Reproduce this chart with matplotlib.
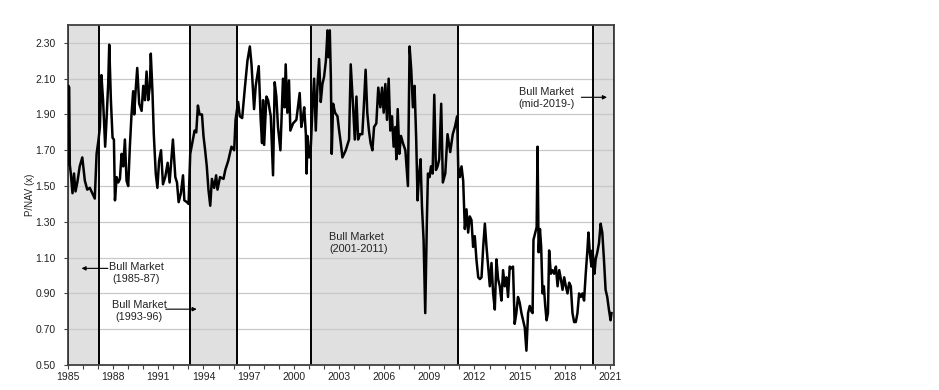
import matplotlib
matplotlib.use("Agg")
from matplotlib import pyplot as plt
from matplotlib.ticker import FormatStrFormatter

plt.rcParams['font.family'] = ['Liberation Sans', 'DejaVu Sans']

# decimal year / P/NAV values
years = [
    1985.00, 1985.03, 1985.08, 1985.12, 1985.20, 1985.30, 1985.40, 1985.50, 1985.62, 1985.78,
    1985.95, 1986.12, 1986.28, 1986.45, 1986.67, 1986.78, 1986.90, 1987.03, 1987.12, 1987.22,
    1987.33, 1987.47, 1987.56, 1987.67, 1987.74, 1987.85, 1987.96, 1988.05, 1988.12, 1988.23,
    1988.34, 1988.45, 1988.56, 1988.67, 1988.78, 1988.89, 1989.00, 1989.11, 1989.22, 1989.33,
    1989.40, 1989.49, 1989.60, 1989.73, 1989.89, 1990.00, 1990.11, 1990.22, 1990.33, 1990.44,
    1990.50, 1990.61, 1990.70, 1990.83, 1990.94, 1991.05, 1991.18, 1991.31, 1991.46, 1991.62,
    1991.75, 1991.97, 1992.13, 1992.24, 1992.35, 1992.50, 1992.64, 1992.73, 1992.90, 1993.01,
    1993.12, 1993.30, 1993.41, 1993.52, 1993.63, 1993.74, 1993.90, 1994.00, 1994.11, 1994.22,
    1994.33, 1994.45, 1994.56, 1994.71, 1994.84, 1994.93, 1995.10, 1995.33, 1995.45, 1995.64,
    1995.86, 1996.04, 1996.13, 1996.30, 1996.41, 1996.57, 1996.75, 1996.92, 1997.08, 1997.19,
    1997.36, 1997.47, 1997.67, 1997.80, 1997.89, 1997.96, 1998.03, 1998.18, 1998.29, 1998.47,
    1998.62, 1998.73, 1998.84, 1998.95, 1999.11, 1999.28, 1999.39, 1999.46, 1999.57, 1999.68,
    1999.77, 1999.95, 2000.17, 2000.39, 2000.50, 2000.58, 2000.69, 2000.80, 2000.85, 2000.91,
    2001.02, 2001.13, 2001.24, 2001.35, 2001.46, 2001.57, 2001.68, 2001.79, 2001.90, 2002.01,
    2002.13, 2002.24, 2002.30, 2002.39, 2002.46, 2002.52, 2002.61, 2002.74, 2002.90, 2003.01,
    2003.12, 2003.23, 2003.45, 2003.67, 2003.78, 2003.94, 2004.05, 2004.16, 2004.27, 2004.40,
    2004.55, 2004.66, 2004.77, 2004.88, 2004.99, 2005.10, 2005.22, 2005.33, 2005.48, 2005.61,
    2005.75, 2005.86, 2005.97, 2006.08, 2006.19, 2006.30, 2006.41, 2006.52, 2006.63, 2006.74,
    2006.81, 2006.90, 2007.01, 2007.12, 2007.25, 2007.41, 2007.58, 2007.69, 2007.80, 2007.91,
    2008.02, 2008.13, 2008.22, 2008.31, 2008.42, 2008.51, 2008.62, 2008.73, 2008.84, 2008.91,
    2009.02, 2009.11, 2009.22, 2009.33, 2009.44, 2009.55, 2009.66, 2009.79, 2009.90, 2010.06,
    2010.21, 2010.39, 2010.56, 2010.70, 2010.85, 2010.92, 2011.03, 2011.14, 2011.25, 2011.36,
    2011.47, 2011.58, 2011.69, 2011.80, 2011.91, 2012.02, 2012.13, 2012.25, 2012.36, 2012.47,
    2012.58, 2012.69, 2012.80, 2012.91, 2013.02, 2013.13, 2013.24, 2013.35, 2013.46, 2013.57,
    2013.68, 2013.79, 2013.90, 2014.01, 2014.12, 2014.23, 2014.34, 2014.45, 2014.56, 2014.67,
    2014.78, 2014.89, 2015.00, 2015.12, 2015.23, 2015.34, 2015.45, 2015.56, 2015.67, 2015.78,
    2015.86, 2015.92, 2016.04, 2016.13, 2016.19, 2016.26, 2016.35, 2016.43, 2016.52, 2016.61,
    2016.70, 2016.79, 2016.88, 2016.96, 2017.07, 2017.18, 2017.29, 2017.41, 2017.52, 2017.63,
    2017.74, 2017.85, 2017.96, 2018.07, 2018.18, 2018.29, 2018.40, 2018.51, 2018.62, 2018.73,
    2018.84, 2018.95, 2019.06, 2019.17, 2019.28, 2019.39, 2019.50, 2019.57, 2019.66, 2019.77,
    2019.83, 2019.90, 2019.97, 2020.05, 2020.16, 2020.27, 2020.38, 2020.49, 2020.60, 2020.71,
    2020.82, 2020.93, 2021.04, 2021.10,
]
pnav = [
    1.62, 2.06, 2.05, 1.62, 1.56, 1.46, 1.57, 1.47, 1.52, 1.61,
    1.66, 1.53, 1.48, 1.49, 1.45, 1.43, 1.68, 1.76, 1.83, 2.12,
    1.98, 1.72, 1.87, 2.07, 2.29, 1.98, 1.77, 1.76, 1.42, 1.55,
    1.52, 1.54, 1.68, 1.61, 1.76, 1.53, 1.50, 1.72, 1.90, 2.03,
    1.90, 2.03, 2.16, 1.96, 1.92, 2.06, 1.98, 2.14, 1.98, 2.06,
    2.24, 2.03, 1.79, 1.57, 1.49, 1.64, 1.70, 1.51, 1.55, 1.63,
    1.52, 1.76, 1.55, 1.52, 1.41, 1.46, 1.56, 1.42, 1.41, 1.40,
    1.68, 1.76, 1.81, 1.80, 1.95, 1.90, 1.90, 1.78, 1.70, 1.61,
    1.48, 1.39, 1.54, 1.49, 1.56, 1.48, 1.55, 1.54, 1.59, 1.64,
    1.72, 1.70, 1.87, 1.97, 1.89, 1.88, 2.05, 2.20, 2.28, 2.18,
    1.93, 2.06, 2.17, 1.87, 1.74, 1.98, 1.73, 2.00, 1.98, 1.89,
    1.56, 2.08, 2.00, 1.83, 1.70, 2.10, 1.94, 2.18, 1.91, 2.09,
    1.81, 1.85, 1.87, 2.02, 1.83, 1.87, 1.94, 1.79, 1.57, 1.78,
    1.66, 1.72, 1.94, 2.10, 1.81, 2.06, 2.21, 1.97, 2.07, 2.11,
    2.20, 2.37, 2.22, 2.37, 2.11, 1.68, 1.96, 1.91, 1.89, 1.81,
    1.74, 1.66, 1.70, 1.76, 2.18, 1.94, 1.76, 2.00, 1.76, 1.79,
    1.79, 1.96, 2.15, 1.91, 1.81, 1.74, 1.70, 1.83, 1.85, 2.05,
    1.94, 2.05, 1.91, 2.07, 1.87, 2.10, 1.81, 1.89, 1.72, 1.83,
    1.65, 1.93, 1.68, 1.78, 1.74, 1.70, 1.50, 2.28, 2.15, 1.94,
    2.06, 1.76, 1.42, 1.55, 1.65, 1.39, 1.20, 0.79, 1.31, 1.57,
    1.55, 1.61, 1.57, 2.01, 1.59, 1.61, 1.65, 1.96, 1.52, 1.57,
    1.79, 1.69, 1.79, 1.83, 1.89, 1.61, 1.55, 1.61, 1.53, 1.26,
    1.37, 1.24, 1.33, 1.31, 1.16, 1.22, 1.09, 0.99, 0.98, 0.99,
    1.16, 1.29, 1.16, 1.05, 0.94, 1.07, 0.90, 0.81, 1.09, 0.98,
    0.94, 0.86, 1.03, 0.94, 0.99, 0.88, 1.05, 1.04, 1.05, 0.73,
    0.79, 0.88, 0.85, 0.79, 0.75, 0.71, 0.58, 0.79, 0.83, 0.80,
    0.79, 1.20, 1.24, 1.27, 1.72, 1.13, 1.26, 1.16, 0.90, 0.94,
    0.83, 0.75, 0.79, 1.14, 1.01, 1.03, 1.01, 1.05, 0.94, 1.03,
    0.98, 0.92, 0.99, 0.94, 0.90, 0.96, 0.94, 0.79, 0.74, 0.74,
    0.79, 0.90, 0.88, 0.90, 0.86, 1.01, 1.14, 1.24, 1.13, 1.05,
    1.14, 1.09, 1.01, 1.09, 1.13, 1.18, 1.29, 1.24, 1.09, 0.92,
    0.88, 0.81, 0.75, 0.79,
]

bull_start = [1985.0, 1993.1, 2001.15, 2019.9]
bull_end = [1987.05, 1996.25, 2010.9, 2021.3]

year_ticks = list(range(1985, 2022, 3))
y_ticks = [0.50, 0.70, 0.90, 1.10, 1.30, 1.50, 1.70, 1.90, 2.10, 2.30]

fig = plt.figure(figsize=(9.39, 3.90), dpi=100)
ax = fig.add_axes([0.0724, 0.0641, 0.5820, 0.8718])

for s, e in zip(bull_start, bull_end):
    ax.axvspan(s, e, color="#e0e0e0", zorder=0.2, lw=0)
    ax.axvline(s, color="black", lw=1.4, zorder=2)
    ax.axvline(e, color="black", lw=1.4, zorder=2)

ax.plot(years, pnav, color="black", lw=1.8, zorder=3)

ax.set_xlim(1985, 2021.3)
ax.set_ylim(0.5, 2.4)
ax.set_yticks(y_ticks)
ax.yaxis.set_major_formatter(FormatStrFormatter("%.2f"))
ax.set_xticks(year_ticks)
ax.set_xticks(list(range(1985, 2022)), minor=True)
ax.xaxis.set_major_formatter(FormatStrFormatter("%d"))

ax.set_axisbelow(True)
ax.grid(axis="y", color="#c8c8c8", lw=0.9)
ax.tick_params(axis="both", which="both", direction="out", length=3,
               width=0.8, color="#404040", labelsize=7.5, labelcolor="#222222")
ax.tick_params(axis="y", pad=6)
ax.tick_params(axis="x", pad=2)
for sp in ax.spines.values():
    sp.set_color("#404040")
    sp.set_linewidth(1.3)

ax.set_ylabel("P/NAV (x)", fontsize=7, color="#222222", labelpad=0)

arrow = dict(arrowstyle="-|>", color="black", lw=0.8, mutation_scale=6,
             shrinkA=0, shrinkB=0)
txt = dict(fontsize=7.8, color="#222222", ha="center", va="center",
           linespacing=1.25)

ax.annotate("", xy=(1985.9, 1.04), xytext=(1987.65, 1.04), arrowprops=arrow)
ax.text(1989.52, 1.013, "Bull Market\n(1985-87)", **txt)

ax.annotate("", xy=(1993.55, 0.812), xytext=(1991.5, 0.812), arrowprops=arrow)
ax.text(1989.72, 0.80, "Bull Market\n(1993-96)", **txt)

ax.text(2002.34, 1.18, "Bull Market\n(2001-2011)", fontsize=7.8, color="#222222",
        ha="left", va="center", linespacing=1.25)

ax.annotate("", xy=(2020.8, 1.996), xytext=(2019.1, 1.996), arrowprops=arrow)
ax.text(2016.76, 1.993, "Bull Market\n(mid-2019-)", **txt)

fig.savefig("out.png", dpi=100)
